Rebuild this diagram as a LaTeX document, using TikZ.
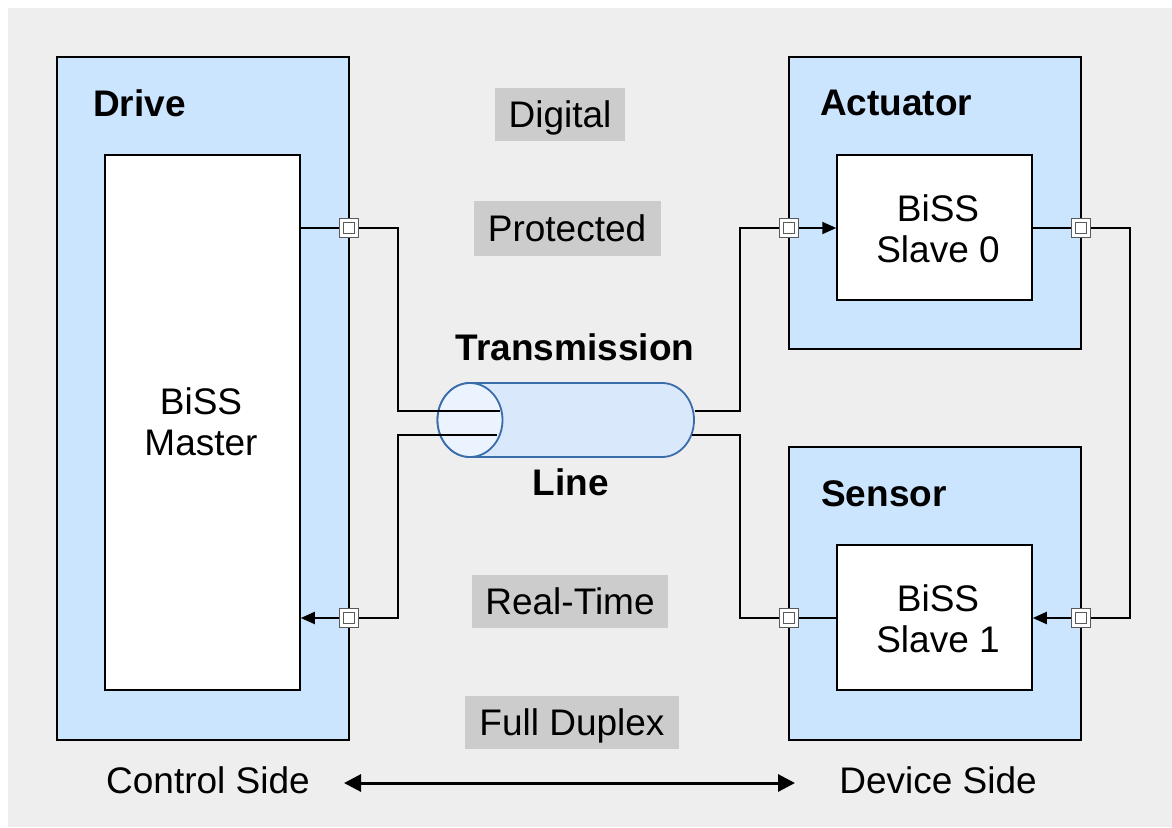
\documentclass[tikz,border=0pt]{standalone}
\usepackage{fontspec}
\setmainfont{Liberation Sans}
\usetikzlibrary{arrows.meta}
\definecolor{bg}{HTML}{EEEEEE}
\definecolor{boxblue}{HTML}{CCE5FF}
\definecolor{lbl}{HTML}{CCCCCC}
\definecolor{cylfill}{HTML}{DAE8FC}
\definecolor{cylend}{HTML}{EAF3FE}
\definecolor{cylline}{HTML}{3A6CAA}
\newcommand\fs{\fontsize{37}{41}\selectfont}
\begin{document}
\begin{tikzpicture}[x=1pt,y=-1pt,
  outerbox/.style={draw=black, line width=1.5pt, fill=boxblue, minimum width=292pt, inner sep=0pt},
  innerbox/.style={draw=black, line width=1.5pt, fill=white, minimum width=195pt, inner sep=0pt, align=center, font=\fs},
  title/.style={font=\fs\bfseries, inner sep=0pt, anchor=west},
  tag/.style={fill=lbl, inner sep=0pt, font=\fs, text height=26.5pt, text depth=0pt},
  plain/.style={inner sep=0pt, font=\fs, text height=26.5pt, text depth=0pt},
  port/.style={draw=black!65, double=white, double distance=2.5pt, line width=1.2pt, fill=white, minimum size=15pt, inner sep=0pt},
  conn/.style={line width=2pt, black},
  arr/.style={conn, -{Triangle[length=14pt,width=12pt]}},
  cyl/.style={draw=cylline, line width=1.8pt}
]
\useasboundingbox (0,0) rectangle (1172,827);
\fill[bg] (8,8) rectangle (1172,827);

% boxes
\node[outerbox, minimum height=683pt] (drive) at (203,398.5) {};
\node[innerbox, minimum height=535pt] (master) at (202.5,422.5) {};
\node[font=\fs, align=center, inner sep=0pt] (mastert) at (201,421.5) {BiSS\\Master};
\node[title] (drivet) at (93,103) {Drive};

\node[outerbox, minimum height=292pt] (act) at (935,203) {};
\node[innerbox, minimum height=145pt] (slave0) at (934.5,227.5) {};
\node[font=\fs, align=center, inner sep=0pt] (slave0t) at (938,229) {BiSS\\Slave 0};
\node[title] (actt) at (820,103) {Actuator};

\node[outerbox, minimum height=293pt] (sens) at (935,593.5) {};
\node[innerbox, minimum height=145pt] (slave1) at (934.5,617.5) {};
\node[font=\fs, align=center, inner sep=0pt] (slave1t) at (938,619) {BiSS\\Slave 1};
\node[title] (senst) at (821,494) {Sensor};

% labels
\node[tag, minimum width=130pt, minimum height=53pt] (digital) at (560,114.5) {Digital};
\node[tag, minimum width=187pt, minimum height=55pt] (protected) at (567,228) {Protected};
\node[tag, minimum width=196pt, minimum height=53pt] (realtime) at (570,601.5) {Real-Time};
\node[tag, minimum width=214pt, minimum height=53pt] (duplex) at (572,722.5) {Full Duplex};
\node[plain, font=\fs\bfseries] (trans) at (575,347) {Transmission};
\node[plain, font=\fs\bfseries] (line) at (571,482) {Line};
\node[plain] (control) at (208,780) {Control Side};
\node[plain] (device) at (938,780) {Device Side};

% cylinder
\node[inner sep=0pt, minimum width=257pt, minimum height=74pt] (cable) at (565.5,420) {};
\draw[cyl, fill=cylfill] (470,383) -- (662,383) arc[start angle=90, end angle=-90, x radius=32pt, y radius=37pt]
   -- (470,457) arc[start angle=270, end angle=90, x radius=32.5pt, y radius=37pt] -- cycle;
\draw[cyl, fill=cylend] (470,420) ellipse[x radius=32.5pt, y radius=37pt];

% port positions and bends
\coordinate (c1) at (349,228);
\coordinate (c2) at (349,618);
\coordinate (c3) at (789,228);
\coordinate (c4) at (1081,228);
\coordinate (c5) at (789,618);
\coordinate (c6) at (1081,618);
\coordinate (a1) at (398,228);
\coordinate (a2) at (398,411);
\coordinate (a3) at (500,411);
\coordinate (a4) at (497,435);
\coordinate (a5) at (398,435);
\coordinate (a6) at (398,618);
\coordinate (r1) at (695,411);
\coordinate (r2) at (740,411);
\coordinate (r3) at (740,228);
\coordinate (r4) at (692,435);
\coordinate (r5) at (740,435);
\coordinate (r6) at (740,618);
\coordinate (f1) at (1130,228);
\coordinate (f2) at (1130,618);

% connectors
\draw[conn] (master.east |- c1) -- (c1) -- (a1) -- (a2) -- (a3);
\draw[arr] (a4) -- (a5) -- (a6) -- (c2) -- (master.east |- c2);
\draw[arr] (r1) -- (r2) -- (r3) -- (c3) -- (slave0.west |- c3);
\draw[conn] (slave0.east |- c4) -- (c4) -- (f1) -- (f2) -- (c6);
\draw[arr] (c6) -- (slave1.east |- c6);
\draw[conn] (slave1.west |- c5) -- (c5) -- (r6) -- (r5) -- (r4);

% ports
\node[port] (p1) at (c1) {};
\node[port] (p2) at (c2) {};
\node[port] (p3) at (c3) {};
\node[port] (p4) at (c4) {};
\node[port] (p5) at (c5) {};
\node[port] (p6) at (c6) {};

% side arrow
\coordinate (sl) at (344,783);
\coordinate (sr) at (795,783);
\draw[line width=3pt, {Triangle[length=17pt,width=17pt]}-{Triangle[length=17pt,width=17pt]}] (sl) -- (sr);
\end{tikzpicture}
\end{document}
